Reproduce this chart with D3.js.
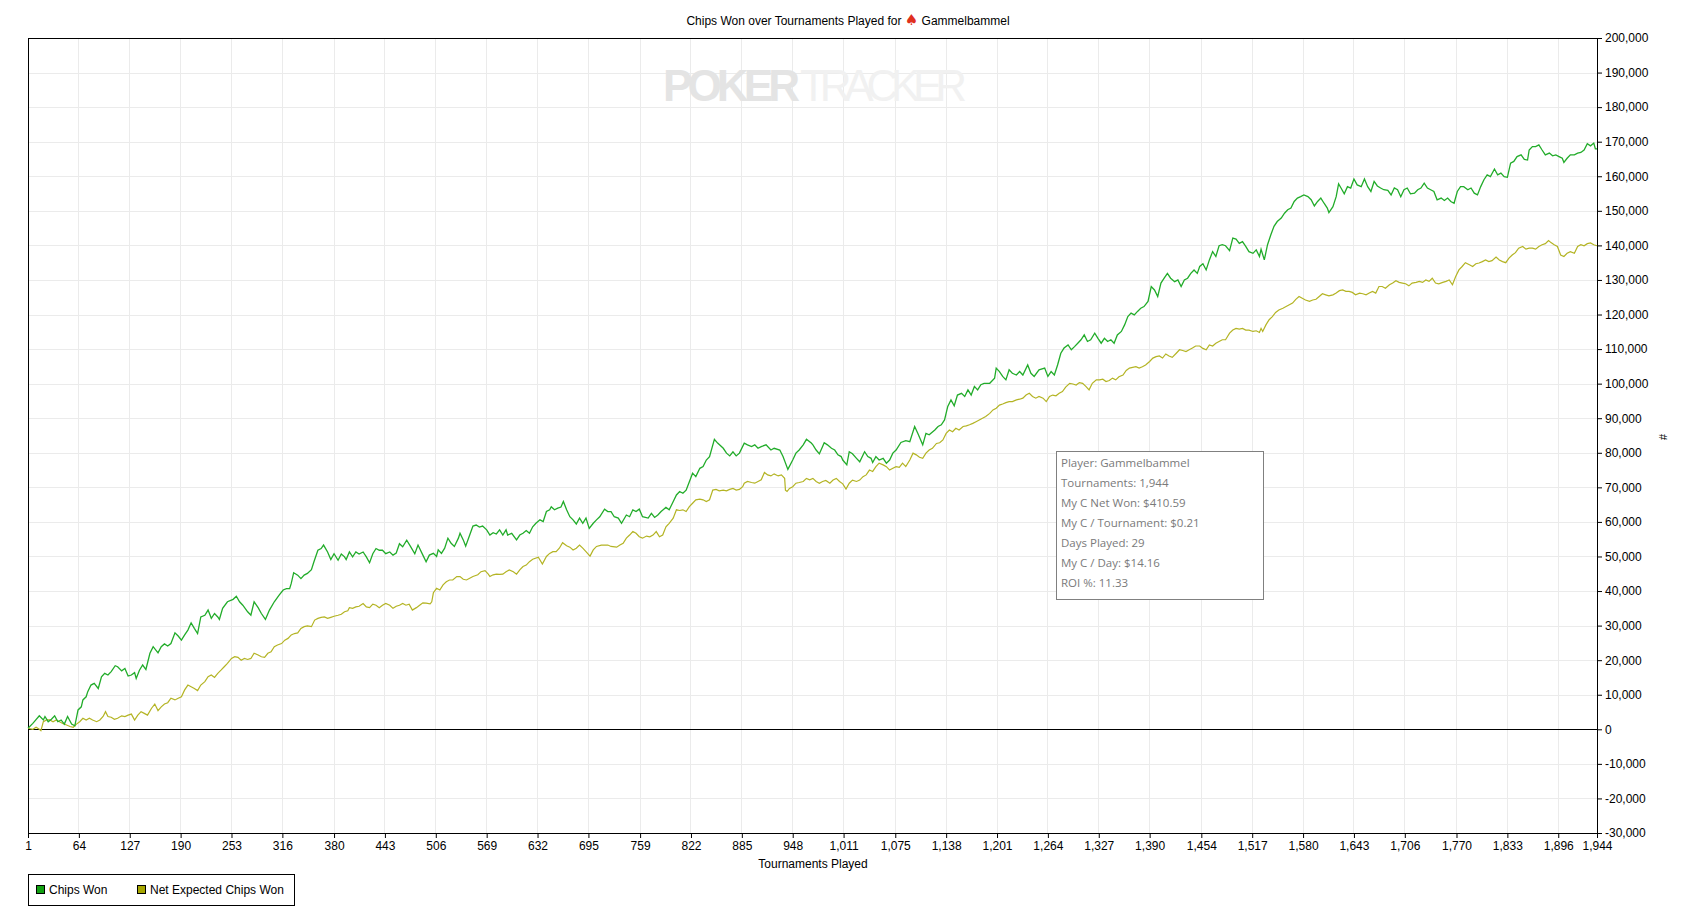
<!DOCTYPE html>
<html lang="en">
<head>
<meta charset="UTF-8">
<title>Chips Won over Tournaments Played</title>
<script src="https://d3js.org/d3.v7.min.js"></script>
<style>
    body { margin: 0; background: #fff; }
    svg { display: block; font-family: "Liberation Sans", Arial, sans-serif; }
</style>
</head>
<body>
<svg id="chart" width="1697" height="921"></svg>
<script>
// tournament ticks shown on the x axis
const xTicks = [1, 64, 127, 190, 253, 316, 380, 443, 506, 569, 632, 695, 759, 822, 885, 948,
    1011, 1075, 1138, 1201, 1264, 1327, 1390, 1454, 1517, 1580, 1643, 1706, 1770, 1833, 1896, 1944];
const yTicks = [-30000, -20000, -10000, 0, 10000, 20000, 30000, 40000, 50000, 60000, 70000, 80000,
    90000, 100000, 110000, 120000, 130000, 140000, 150000, 160000, 170000, 180000, 190000, 200000];

const seriesNames = ["Chips Won", "Net Expected Chips Won"];

// [tournament, chips]
const chipsWon = [[1,300],[7,1700],[15,3900],[20,2700],[22,3700],[26,2200],[30,2900],[34,3900],[38,2200],[42,2700],
[46,1500],[50,3700],[55,1500],[59,1000],[63,5600],[67,6500],[69,8500],[73,9400],[75,10900],[79,12800],
[83,13300],[88,11800],[92,15200],[96,16200],[100,15700],[104,16700],[109,18400],[112,18100],[117,16900],[121,17600],
[125,15400],[129,15700],[133,16400],[135,14700],[139,17100],[143,18600],[147,17300],[152,22000],[156,23900],[162,22100],
[166,23900],[170,24700],[174,24100],[178,24800],[183,27900],[187,27000],[191,25800],[195,27300],[199,28700],[203,30800],
[207,29200],[211,27700],[215,32500],[220,33000],[224,34500],[228,32100],[232,33500],[236,32500],[238,31800],[242,35000],
[248,36900],[255,37600],[259,38500],[263,36900],[267,35900],[273,34000],[277,33000],[281,36900],[286,35200],[290,33500],
[295,31800],[300,34500],[306,36900],[312,38800],[317,40300],[321,40700],[325,40700],[327,42200],[330,45300],[335,44600],
[339,43600],[343,44600],[347,45100],[352,46200],[355,48400],[360,51800],[364,52300],[367,53300],[372,51300],[376,49100],
[380,50800],[385,48900],[389,50700],[393,49900],[395,49100],[399,51300],[403,49900],[407,51300],[411,50700],[416,51300],
[420,49900],[424,48200],[428,50800],[432,52300],[436,51800],[440,51800],[444,50800],[449,51300],[453,50400],[457,51000],
[461,53700],[465,52800],[470,54700],[475,52800],[480,50800],[484,53300],[490,50400],[494,48500],[498,50400],[503,50900],
[507,50000],[509,51900],[513,50900],[517,52400],[521,55300],[525,53800],[529,52900],[534,55300],[536,56700],[540,54800],
[543,53000],[548,56200],[552,58800],[556,59100],[560,58500],[564,58800],[569,57700],[573,56200],[577,56900],[581,56500],
[585,57700],[589,56200],[593,57700],[595,56200],[600,56700],[606,54800],[610,56200],[614,56700],[618,57500],[622,56700],
[626,58600],[630,59600],[635,60600],[639,60100],[643,63000],[647,63500],[649,64400],[653,63500],[657,64000],[661,64300],
[664,65900],[668,63500],[672,61500],[676,60600],[680,59400],[684,61100],[688,59600],[692,61100],[696,58100],[701,59600],
[705,60600],[709,61500],[715,63700],[719,63000],[723,63000],[727,61500],[732,61100],[736,59600],[742,62000],[746,61500],
[750,63500],[754,63000],[758,63700],[762,61500],[769,61100],[773,62500],[777,61300],[781,62000],[785,63000],[791,64200],
[795,63500],[799,65400],[804,67800],[808,68800],[812,68300],[816,69200],[820,71600],[824,74100],[828,73100],[833,75500],
[837,76000],[841,77900],[845,78900],[851,83900],[855,82800],[862,81300],[866,79900],[870,79100],[874,80300],[878,79100],
[882,79900],[888,82800],[892,82300],[897,81800],[901,82300],[905,81300],[909,81800],[915,82300],[921,80800],[925,81300],
[932,80800],[936,78900],[942,75200],[948,77900],[952,79900],[956,80800],[961,82300],[965,83900],[971,82800],[973,82300],
[977,80800],[981,79700],[985,81800],[987,82900],[991,82300],[996,81300],[1000,80800],[1004,79400],[1008,78900],[1010,77900],
[1015,76500],[1018,80300],[1022,79700],[1027,78400],[1031,77400],[1037,80300],[1041,78900],[1045,78400],[1047,77200],[1051,78900],
[1055,77900],[1060,78400],[1064,77000],[1068,77900],[1072,79900],[1076,80800],[1082,83000],[1088,83500],[1093,83200],[1099,87600],
[1103,85600],[1109,82300],[1113,85600],[1117,85200],[1124,86600],[1128,87600],[1132,88100],[1136,89500],[1140,93400],[1144,95300],
[1148,93600],[1152,96700],[1157,97200],[1161,96300],[1165,98200],[1169,96700],[1173,99200],[1177,98200],[1181,99700],[1185,100100],
[1192,100100],[1198,101600],[1200,104500],[1204,103500],[1208,102100],[1212,101100],[1216,104000],[1220,103000],[1225,102500],[1229,103500],
[1233,102500],[1239,105400],[1243,103000],[1247,102100],[1253,104000],[1260,104500],[1264,102100],[1268,103500],[1272,102500],[1276,105400],
[1280,108800],[1284,110300],[1289,111200],[1293,109800],[1297,110700],[1301,111700],[1305,112700],[1309,114100],[1313,112200],[1317,112700],
[1322,114600],[1326,113100],[1330,111700],[1334,113100],[1338,112200],[1342,112700],[1346,111700],[1350,114100],[1355,115100],[1359,117000],
[1363,119400],[1367,120400],[1371,119900],[1375,120900],[1379,121800],[1383,122300],[1388,123800],[1392,128100],[1396,127100],[1400,125200],
[1404,129100],[1408,130500],[1412,131900],[1416,130500],[1421,129500],[1425,130000],[1429,128100],[1433,130000],[1437,130500],[1441,131900],
[1445,132900],[1449,131900],[1452,133900],[1456,134700],[1460,132900],[1464,135800],[1468,138200],[1472,136800],[1476,139900],[1480,140200],
[1484,139900],[1489,138500],[1493,142100],[1497,141800],[1501,140600],[1505,141100],[1509,139700],[1513,138200],[1518,137700],[1522,138700],
[1526,136800],[1528,138900],[1532,135800],[1536,140200],[1540,143000],[1544,145500],[1548,146900],[1553,147900],[1557,149300],[1561,150300],
[1565,150800],[1569,152700],[1573,153700],[1577,154100],[1581,154600],[1586,154100],[1590,153200],[1594,151400],[1598,152700],[1602,153700],
[1606,152200],[1610,150800],[1612,149500],[1617,151200],[1621,154100],[1624,157800],[1627,156600],[1631,154900],[1635,157000],[1639,156600],
[1643,159200],[1647,157500],[1652,157000],[1656,159200],[1660,157000],[1664,155600],[1668,158500],[1672,157200],[1676,156600],[1680,156100],
[1685,155900],[1689,154600],[1693,156600],[1697,156100],[1701,154100],[1705,156100],[1709,156600],[1713,154900],[1718,155100],[1722,156100],
[1726,156600],[1730,158000],[1734,156600],[1738,156100],[1742,155600],[1746,153200],[1751,153700],[1755,153000],[1759,153700],[1763,152700],
[1767,152200],[1771,155600],[1775,157000],[1779,157000],[1784,156100],[1788,156600],[1792,155100],[1796,154600],[1800,157000],[1804,159000],
[1808,160400],[1812,159900],[1817,162100],[1821,160400],[1825,160900],[1829,159900],[1833,159700],[1837,163800],[1841,164300],[1845,165700],
[1850,166200],[1854,164900],[1858,164700],[1860,167600],[1864,168600],[1868,168600],[1872,169100],[1876,167600],[1880,166200],[1885,166700],
[1889,165900],[1893,166200],[1897,165700],[1901,165200],[1903,164000],[1907,165200],[1911,166200],[1916,166200],[1920,166700],[1924,166900],
[1928,167600],[1932,169400],[1936,168800],[1940,169600],[1942,167900],[1944,167900]];

const expectedWon = [[1,300],[7,0],[11,600],[15,0],[17,-400],[20,2200],[24,2700],[28,2700],[32,2200],[36,2700],
[40,2200],[44,1700],[48,1300],[53,800],[57,600],[61,1500],[65,2200],[69,3200],[73,2700],[77,3200],
[81,2700],[86,2200],[90,2700],[94,3700],[97,5100],[100,3700],[104,3500],[108,2900],[112,3200],[117,3900],
[121,3700],[125,4100],[129,4400],[133,2700],[137,4100],[141,5100],[145,4600],[149,4100],[154,6100],[158,7300],
[162,5400],[166,6500],[170,7300],[174,7700],[178,9000],[183,8500],[187,9000],[191,9400],[195,11400],[199,12800],
[203,12300],[207,11800],[211,11200],[215,12800],[220,13800],[224,15200],[228,15700],[232,15000],[236,16200],[240,17100],
[244,18100],[248,19100],[253,20500],[257,21000],[261,20800],[265,20000],[269,20500],[273,20200],[277,20500],[281,22000],
[286,21500],[290,21000],[294,20800],[298,22000],[302,22400],[306,23900],[310,24400],[315,24800],[319,25800],[323,26300],
[327,27300],[331,27700],[335,27900],[339,29200],[343,29700],[347,29900],[352,29700],[356,31600],[360,32100],[364,32400],
[368,32500],[372,32100],[376,32400],[380,32700],[385,33000],[389,33300],[393,34000],[397,34300],[399,35200],[403,35000],
[407,35400],[411,35600],[416,36400],[420,35400],[424,35200],[428,36200],[432,35900],[436,35200],[440,35900],[444,36400],
[449,35900],[453,35000],[457,35600],[461,35900],[465,36400],[469,35900],[473,36200],[477,34500],[482,35200],[486,35900],
[490,36600],[494,36500],[499,36300],[501,36900],[503,39500],[507,40800],[511,40300],[515,41800],[519,42700],[523,43200],
[527,43200],[532,44200],[536,44200],[540,43400],[544,43200],[548,43700],[552,44200],[558,44700],[562,45600],[567,45900],
[571,44900],[573,44200],[577,44700],[581,44900],[585,44800],[589,44900],[593,45600],[597,46100],[602,45600],[606,44900],
[610,46100],[614,47100],[618,47500],[622,48500],[626,49200],[633,49800],[638,47800],[643,50000],[647,50900],[651,51400],
[655,51400],[659,52400],[663,54000],[668,53100],[672,52700],[676,51900],[680,52400],[684,53300],[688,52400],[692,51400],
[697,50100],[701,51900],[705,52900],[711,53300],[715,53300],[719,53300],[723,52900],[730,52700],[734,53300],[738,53800],
[742,55300],[746,56200],[750,57200],[754,56700],[758,55700],[762,55300],[767,55900],[771,55700],[775,56200],[779,57200],
[783,55700],[787,56200],[791,58600],[795,59600],[800,61100],[804,63500],[808,63300],[812,63500],[816,63000],[820,64400],
[824,65400],[828,66400],[833,66600],[837,66400],[841,65900],[845,66400],[849,69200],[853,69400],[857,69000],[862,69200],
[866,69000],[870,69400],[874,69700],[878,69200],[882,69400],[886,70200],[888,71200],[892,71700],[897,71400],[901,71200],
[905,71700],[909,72200],[913,74300],[917,73600],[921,73300],[925,73900],[930,73300],[934,73600],[938,72600],[939,69200],
[941,68800],[944,69700],[948,70200],[952,71200],[956,71400],[961,71700],[965,72600],[969,72200],[973,72600],[977,71700],
[981,71200],[985,71700],[989,72000],[994,71200],[998,72100],[1002,72600],[1006,71700],[1010,71000],[1014,69500],[1018,71200],
[1022,72100],[1027,71700],[1031,72100],[1035,73100],[1039,73600],[1043,75000],[1047,74600],[1051,76000],[1055,77000],[1060,76500],
[1064,76000],[1068,75000],[1072,75500],[1076,76000],[1080,75800],[1084,77000],[1088,76000],[1093,77900],[1097,79900],[1101,79400],
[1105,78700],[1109,78400],[1113,79900],[1117,80800],[1121,81300],[1126,82700],[1130,82900],[1134,83700],[1138,85600],[1142,86600],
[1146,86100],[1150,87100],[1154,86600],[1159,87600],[1163,87800],[1167,88100],[1171,88500],[1175,89000],[1179,89500],[1183,90000],
[1187,90500],[1192,91400],[1196,92400],[1200,92900],[1204,93800],[1208,94100],[1212,94500],[1216,94800],[1220,94800],[1225,95300],
[1229,95500],[1233,95800],[1237,96700],[1241,97200],[1245,96300],[1249,95800],[1253,96300],[1258,95800],[1262,94800],[1266,96300],
[1270,96700],[1274,96500],[1278,97200],[1282,97700],[1286,99000],[1291,100100],[1295,99900],[1299,99600],[1303,100300],[1307,100100],
[1311,99200],[1315,98200],[1319,100100],[1324,101100],[1328,101100],[1332,101300],[1336,100600],[1340,100900],[1344,101600],[1348,101100],
[1352,102000],[1357,102500],[1361,103800],[1365,104500],[1369,104700],[1373,104900],[1377,104500],[1381,104900],[1385,105400],[1390,106400],
[1394,107400],[1398,107800],[1402,108000],[1406,107400],[1410,108600],[1414,108000],[1418,107600],[1423,108800],[1427,109800],[1431,109600],
[1435,109300],[1439,109800],[1443,110300],[1447,110900],[1452,110900],[1456,110200],[1460,109800],[1464,111200],[1468,110900],[1472,111700],
[1476,112200],[1480,112700],[1484,112700],[1489,114600],[1493,115500],[1497,116000],[1501,115800],[1505,116000],[1509,115500],[1513,115500],
[1518,115100],[1522,115300],[1526,114800],[1528,116000],[1530,115100],[1534,117000],[1538,118500],[1542,119400],[1546,120600],[1550,121300],
[1555,121800],[1559,122300],[1563,122800],[1567,123300],[1571,124400],[1575,125200],[1579,124700],[1583,124200],[1588,123800],[1592,124200],
[1596,124400],[1600,125200],[1604,126000],[1608,125700],[1612,125400],[1617,125700],[1621,126200],[1625,126900],[1629,127100],[1633,126700],
[1637,126700],[1641,126400],[1645,125700],[1650,126200],[1654,126000],[1658,125700],[1662,126200],[1666,126700],[1670,126200],[1674,128100],
[1678,128100],[1682,127600],[1687,128600],[1691,129100],[1695,129800],[1699,129300],[1703,129100],[1707,128900],[1711,128300],[1715,129100],
[1720,129300],[1724,129600],[1728,129300],[1732,130000],[1736,129600],[1740,130500],[1744,129100],[1748,128900],[1753,129300],[1757,129600],
[1761,130000],[1765,128600],[1769,131000],[1773,132900],[1777,133900],[1781,135000],[1786,134400],[1790,133900],[1794,134700],[1798,134900],
[1802,135300],[1806,135800],[1810,135300],[1814,135600],[1819,136600],[1823,135800],[1827,135300],[1831,135000],[1835,136300],[1839,137200],
[1843,137900],[1847,139200],[1852,139700],[1856,138900],[1860,139200],[1864,139200],[1868,138900],[1872,139700],[1876,140200],[1880,140500],
[1884,141400],[1887,140800],[1891,140200],[1895,139700],[1899,137200],[1903,136800],[1907,137700],[1911,138200],[1916,137700],[1920,139700],
[1924,140200],[1928,139900],[1932,140500],[1936,140700],[1940,140200],[1944,139900]];

const infoLines = ["Player: Gammelbammel", "Tournaments: 1,944", "My C Net Won: $410.59",
    "My C / Tournament: $0.21", "Days Played: 29", "My C / Day: $14.16", "ROI %: 11.33"];

const svg = d3.select("#chart");
const plotLeft = 28, plotRight = 1597, plotTop = 38, plotBottom = 833;

const x = d3.scaleLinear().domain([1, 1944]).range([plotLeft, plotRight]);
const y = d3.scaleLinear().domain([-30000, 200000]).range([plotBottom, plotTop]);
// plain hyphen for negatives, like the original
const fmt = d3.formatLocale({decimal: ".", thousands: ",", grouping: [3], currency: ["$", ""], minus: "-"}).format(",");

// title with the red spade
const title = svg.append("text")
    .attr("x", 848).attr("y", 25)
    .attr("text-anchor", "middle")
    .attr("font-size", 12).attr("fill", "#000");
title.append("tspan").text("Chips Won over Tournaments Played for ");
title.append("tspan").attr("fill", "#e0301e").attr("font-size", 15).attr("font-family", "DejaVu Sans").text("\u2660");
title.append("tspan").text(" Gammelbammel");

// grid
const grid = svg.append("g");
grid.selectAll("line.v").data(xTicks).enter().append("line")
    .attr("x1", d => x(d)).attr("x2", d => x(d))
    .attr("y1", plotTop).attr("y2", plotBottom)
    .attr("stroke", "#ebebeb").attr("shape-rendering", "crispEdges");
grid.selectAll("line.h").data(yTicks).enter().append("line")
    .attr("x1", plotLeft).attr("x2", plotRight)
    .attr("y1", d => Math.round(y(d)) + 0.5).attr("y2", d => Math.round(y(d)) + 0.5)
    .attr("stroke", "#ebebeb");

// watermark
const wm = svg.append("text").attr("y", 101).attr("font-size", 44).attr("font-weight", "bold")
    .attr("font-family", "Liberation Sans Narrow, Liberation Sans, Arial");
wm.append("tspan").attr("x", 663).attr("fill", "#e4e4e4").attr("textLength", 137).text("POKER");
wm.append("tspan").attr("x", 800).attr("fill", "#f1f1f1").attr("font-weight", "normal").attr("textLength", 167).text("TRACKER");

// frame
svg.append("line").attr("x1", plotLeft).attr("x2", plotRight).attr("y1", plotTop + 0.5).attr("y2", plotTop + 0.5).attr("stroke", "#000");
svg.append("line").attr("x1", plotLeft + 0.5).attr("x2", plotLeft + 0.5).attr("y1", plotTop).attr("y2", plotBottom).attr("stroke", "#000");

// zero line
svg.append("line").attr("x1", plotLeft).attr("x2", plotRight)
    .attr("y1", Math.round(y(0)) + 0.5).attr("y2", Math.round(y(0)) + 0.5)
    .attr("stroke", "#000");

// axes
const xAxis = svg.append("g").attr("transform", `translate(0,${plotBottom})`)
    .call(d3.axisBottom(x).tickValues(xTicks).tickFormat(fmt).tickSizeOuter(0).tickSize(5).tickPadding(3));
const yAxis = svg.append("g").attr("transform", `translate(${plotRight},0)`)
    .call(d3.axisRight(y).tickValues(yTicks).tickFormat(fmt).tickSizeOuter(0).tickSize(5).tickPadding(3));
[xAxis, yAxis].forEach(a => {
    a.selectAll("text").attr("font-size", 12).attr("font-family", "Liberation Sans, Arial").attr("fill", "#000");
    a.selectAll("path, line").attr("stroke", "#000");
});

svg.append("text").attr("x", 813).attr("y", 868).attr("text-anchor", "middle")
    .attr("font-size", 12).text("Tournaments Played");

svg.append("text").attr("transform", "translate(1659,437) rotate(90)")
    .attr("text-anchor", "middle").attr("font-size", 11).text("#");

// series
const line = d3.line().x(d => x(d[0])).y(d => y(d[1]));
svg.append("path").datum(expectedWon).attr("d", line)
    .attr("fill", "none").attr("stroke", "#b4b424").attr("stroke-width", 1.2);
svg.append("path").datum(chipsWon).attr("d", line)
    .attr("fill", "none").attr("stroke", "#22ac2a").attr("stroke-width", 1.3);

// info box
const info = svg.append("g").attr("transform", "translate(1056,451)");
info.append("rect").attr("x", 0.5).attr("y", 0.5).attr("width", 207).attr("height", 148)
    .attr("fill", "#fff").attr("stroke", "#808080");
info.selectAll("text").data(infoLines).enter().append("text")
    .attr("x", 5).attr("y", (d, i) => 16 + i * 20)
    .attr("font-family", "Open Sans, sans-serif").attr("font-size", 11.5).attr("fill", "#7a7a7a")
    .text(d => d);

// legend
const legendColors = ["#12a012", "#a6a600"];
const legend = svg.append("g").attr("transform", "translate(28,874)");
legend.append("rect").attr("x", 0.5).attr("y", 0.5).attr("width", 266).attr("height", 31)
    .attr("fill", "#fff").attr("stroke", "#000");
const lx = [8, 109];
seriesNames.forEach((name, i) => {
    legend.append("rect").attr("x", lx[i] + 0.5).attr("y", 11.5).attr("width", 8).attr("height", 8)
        .attr("fill", legendColors[i]).attr("stroke", "#000");
    legend.append("text").attr("x", lx[i] + 13).attr("y", 20).attr("font-size", 12).text(name);
});
</script>
</body>
</html>
